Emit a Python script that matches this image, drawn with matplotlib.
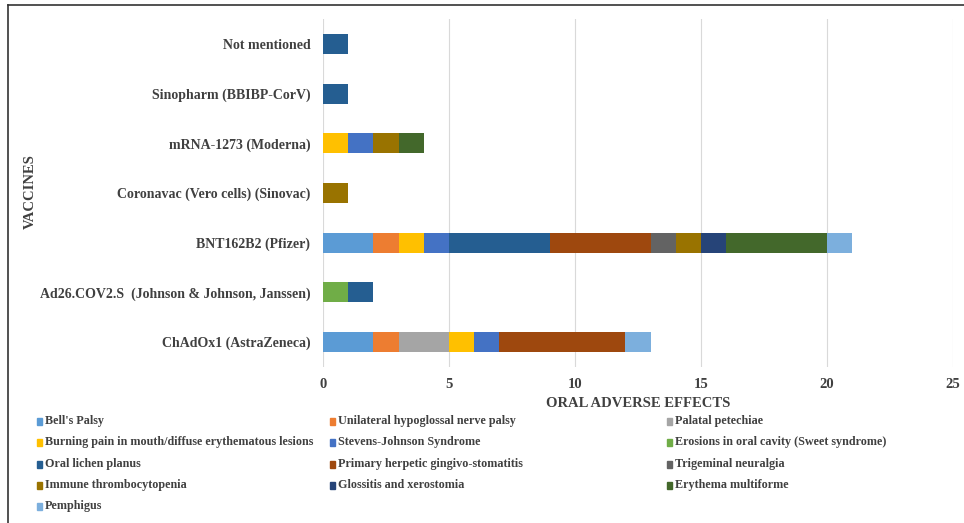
import numpy as np
import matplotlib.pyplot as plt
from matplotlib.lines import Line2D

vaccines = ['ChAdOx1 (AstraZeneca)', 'Ad26.COV2.S  (Johnson & Johnson, Janssen)',
            'BNT162B2 (Pfizer)', 'Coronavac (Vero cells) (Sinovac)',
            'mRNA-1273 (Moderna)', 'Sinopharm (BBIBP-CorV)', 'Not mentioned']

effects = ["Bell's Palsy", 'Unilateral hypoglossal nerve palsy', 'Palatal petechiae',
           'Burning pain in mouth/diffuse erythematous lesions', 'Stevens-Johnson Syndrome',
           'Erosions in oral cavity (Sweet syndrome)', 'Oral lichen planus',
           'Primary herpetic gingivo-stomatitis', 'Trigeminal neuralgia',
           'Immune thrombocytopenia', 'Glossitis and xerostomia', 'Erythema multiforme',
           'Pemphigus']

colors = ['#5B9BD5', '#ED7D31', '#A5A5A5', '#FFC000', '#4472C4', '#70AD47', '#255E91',
          '#9E480E', '#636363', '#997300', '#264478', '#43682B', '#7CAFDD']

# counts per effect, in the order of vaccines
bells      = [2, 0, 2, 0, 0, 0, 0]
hypoglossal = [1, 0, 1, 0, 0, 0, 0]
petechiae  = [2, 0, 0, 0, 0, 0, 0]
burning    = [1, 0, 1, 0, 1, 0, 0]
sjs        = [1, 0, 1, 0, 1, 0, 0]
erosions   = [0, 1, 0, 0, 0, 0, 0]
lichen     = [0, 1, 4, 0, 0, 1, 1]
herpetic   = [5, 0, 4, 0, 0, 0, 0]
trigeminal = [0, 0, 1, 0, 0, 0, 0]
itp        = [0, 0, 1, 1, 1, 0, 0]
glossitis  = [0, 0, 1, 0, 0, 0, 0]
erythema   = [0, 0, 4, 0, 1, 0, 0]
pemphigus  = [1, 0, 1, 0, 0, 0, 0]

series = [bells, hypoglossal, petechiae, burning, sjs, erosions, lichen,
          herpetic, trigeminal, itp, glossitis, erythema, pemphigus]

plt.rcParams['font.family'] = ['Liberation Serif', 'DejaVu Serif']
txt = '#404040'

fig = plt.figure(figsize=(9.64, 5.23), dpi=100)
ax = fig.add_axes([323 / 964, 1 - 367 / 523, (953 - 323) / 964, (367 - 19) / 523])

y = np.arange(len(vaccines))
left = np.zeros(len(vaccines))
for name, vals, c in zip(effects, series, colors):
    vals = np.array(vals, dtype=float)
    ax.barh(y, vals, left=left, height=0.4, color=c, label=name, zorder=3)
    left += vals

ax.set_xlim(0, 25)
ax.set_ylim(-0.5, len(vaccines) - 0.5)
ax.set_xticks(range(0, 26, 5))
ax.set_yticks(y)
ax.set_yticklabels(vaccines, fontsize=10, fontweight='bold', color=txt)
ax.tick_params(axis='x', labelsize=10.5, labelcolor=txt, length=0, pad=8)
ax.tick_params(axis='y', length=0, pad=9)
for lab in ax.get_xticklabels():
    lab.set_fontweight('bold')
ax.grid(axis='x', color='#D9D9D9', linewidth=0.8, zorder=0)
for s in ax.spines.values():
    s.set_visible(False)

ax.set_xlabel('ORAL ADVERSE EFFECTS', fontsize=10.5, fontweight='bold', color=txt, labelpad=4)
fig.text(30 / 964, 1 - 192 / 523, 'VACCINES', rotation=90, fontsize=10.5,
         fontweight='bold', color=txt, ha='center', va='center')

# legend, 3 columns, row-wise order
col_x = [37, 330, 667]
row_y = [421, 442, 464, 485, 506]
for i, (name, c) in enumerate(zip(effects, colors)):
    r, k = divmod(i, 3)
    xm, ym = col_x[k], row_y[r]
    fig.patches.append(plt.Rectangle((xm / 964, 1 - (ym + 3.5) / 523), 5 / 964, 7 / 523,
                                     transform=fig.transFigure, color=c))
    fig.text((xm + 8) / 964, 1 - ym / 523, name, fontsize=8.7, fontweight='bold',
             color=txt, ha='left', va='center')

# frame lines (top and left)
fig.add_artist(Line2D([8 / 964, 1], [1 - 5 / 523, 1 - 5 / 523], color='#333333', lw=1.2,
                      transform=fig.transFigure))
fig.add_artist(Line2D([8 / 964, 8 / 964], [0, 1 - 5 / 523], color='#333333', lw=1.2,
                      transform=fig.transFigure))

fig.savefig('out.png', dpi=100)
